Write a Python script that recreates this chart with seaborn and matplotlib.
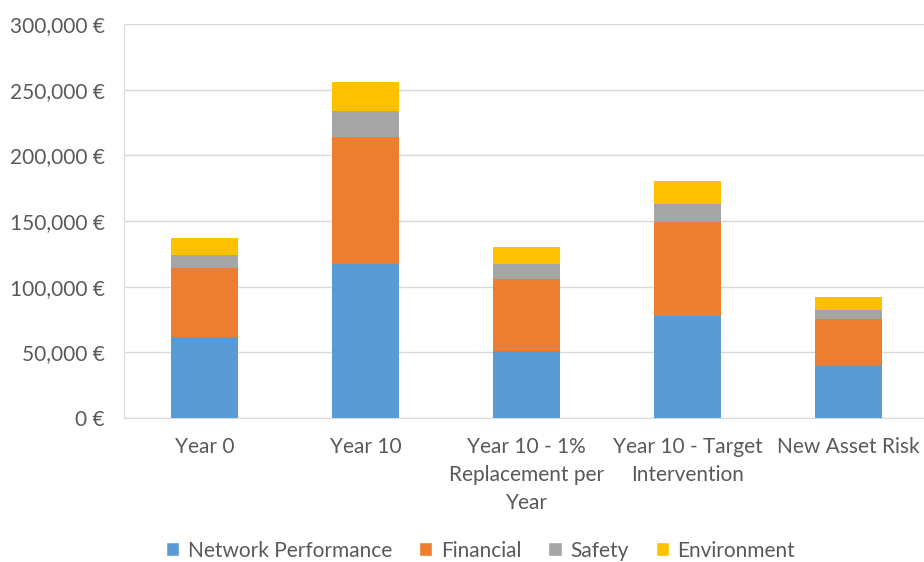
import numpy as np
import pandas as pd
import matplotlib
matplotlib.use("Agg")
import matplotlib.pyplot as plt
import seaborn as sns
from matplotlib.patches import Patch
from matplotlib.ticker import FuncFormatter

categories = ["Year 0", "Year 10", "Year 10 - 1%\nReplacement per\nYear",
              "Year 10 - Target\nIntervention", "New Asset Risk"]
network = [62000, 117000, 51000, 78000, 40000]
financial = [52000, 97000, 54500, 71500, 35500]
safety = [10000, 20000, 11500, 13500, 7000]
environment = [13000, 22000, 13000, 17500, 9500]

series = ["Network Performance", "Financial", "Safety", "Environment"]
colors = ["#5B9BD5", "#ED7D31", "#A5A5A5", "#FFC000"]

df = pd.DataFrame({"cat": categories, "Network Performance": network,
                   "Financial": financial, "Safety": safety,
                   "Environment": environment})
cum = df[series].cumsum(axis=1)

sns.set_style("white")
plt.rcParams["font.family"] = ["Lato", "DejaVu Sans"]

fig = plt.figure(figsize=(9.24, 5.62), dpi=100)
ax = fig.add_axes([124 / 924, (562 - 418) / 562, 805 / 924, (418 - 24) / 562])

# stacked bars: draw cumulative totals, tallest first
for s, c in reversed(list(zip(series, colors))):
    sns.barplot(x=df["cat"], y=cum[s], color=c, width=0.41, ax=ax,
                saturation=1, edgecolor="none", zorder=3)

ax.set_ylim(0, 300000)
ax.set_xlim(-0.5, 4.5)
ax.set_yticks(np.arange(0, 300001, 50000))
ax.yaxis.set_major_formatter(FuncFormatter(lambda v, p: f"{int(v):,} €"))
ax.grid(axis="y", color="#D9D9D9", linewidth=1, zorder=0)
ax.set_axisbelow(True)
for sp in ["top", "right"]:
    ax.spines[sp].set_visible(False)
ax.spines["left"].set_color("#D9D9D9")
ax.spines["bottom"].set_color("#D9D9D9")
ax.set_xlabel("")
ax.set_ylabel("")
ax.tick_params(axis="both", length=0, labelsize=15, colors="#595959")
ax.tick_params(axis="x", pad=14)
ax.tick_params(axis="y", pad=14)
for lbl in ax.get_xticklabels():
    lbl.set_linespacing(1.5)

handles = [Patch(facecolor=c, label=s) for s, c in zip(series, colors)]
leg = fig.legend(handles=handles, loc="center", bbox_to_anchor=(0.52, 0.02),
                 ncol=4, frameon=False, fontsize=15, handlelength=0.65,
                 handleheight=0.65, columnspacing=1.3, handletextpad=0.4)
for t in leg.get_texts():
    t.set_color("#595959")

fig.savefig("out.png", dpi=100)
